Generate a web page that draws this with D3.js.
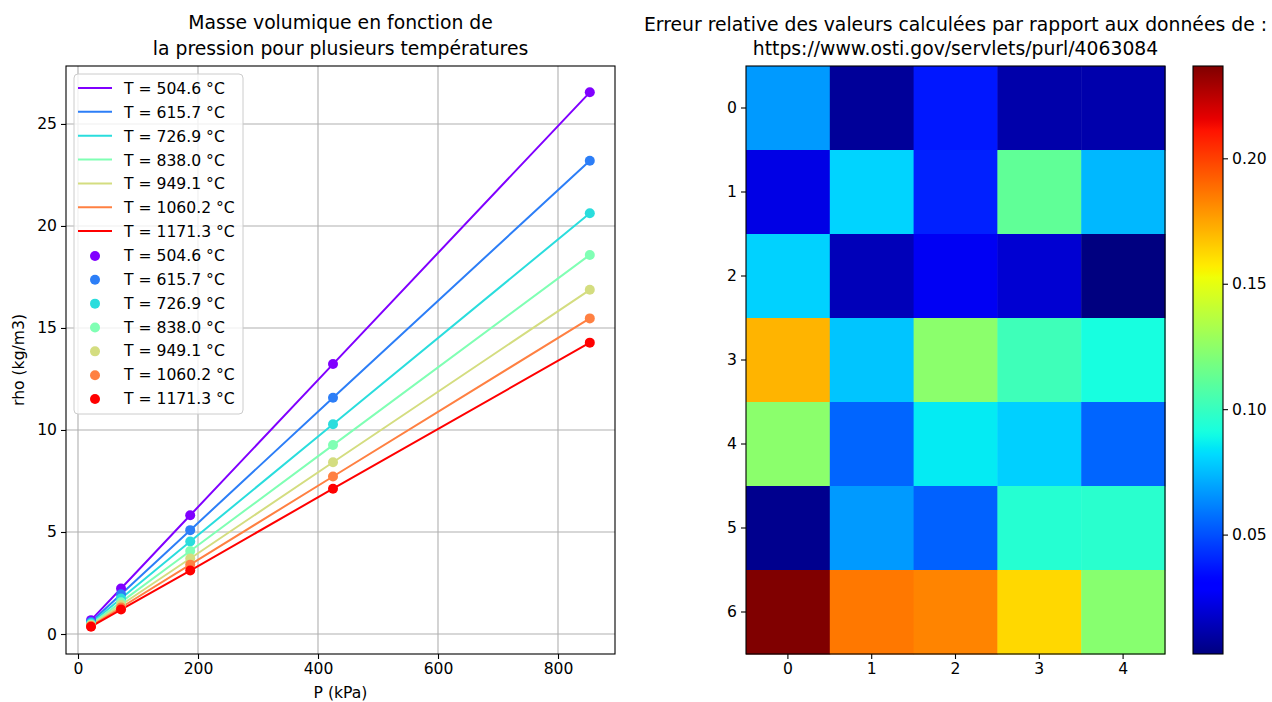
<!DOCTYPE html>
<html><head><meta charset="utf-8">
<script src="https://cdn.jsdelivr.net/npm/d3@7"></script>
<style>
body{margin:0;background:#fff;}
text{font-family:"DejaVu Sans",sans-serif;fill:#000;}
</style></head>
<body><svg id="c" width="1272" height="702"></svg>
<script>
// ---------- data ----------
const pressures = [21.7, 71.7, 187, 425, 853];
const temperatures = ["504.6", "615.7", "726.9", "838.0", "949.1", "1060.2", "1171.3"];
const rho504 = [0.68, 2.23, 5.82, 13.23, 26.55];
const rho615 = [0.59, 1.95, 5.09, 11.58, 23.20];
const rho726 = [0.53, 1.74, 4.53, 10.28, 20.62];
const rho838 = [0.47, 1.56, 4.07, 9.26, 18.58];
const rho949 = [0.43, 1.42, 3.70, 8.42, 16.87];
const rho1060 = [0.39, 1.30, 3.40, 7.72, 15.47];
const rho1171 = [0.36, 1.20, 3.11, 7.12, 14.28];
const seriesColors = ["#8000ff", "#2c7ef7", "#2adddd", "#80ffb4", "#d4dd80", "#ff8042", "#ff0000"];
const xTicks = [0, 200, 400, 600, 800];
const yTicks = [0, 5, 10, 15, 20, 25];

const errRow0 = [0.067, 0.0076, 0.037, 0.011, 0.0115];
const errRow1 = [0.023, 0.0805, 0.039, 0.1118, 0.0739];
const errRow2 = [0.080, 0.014, 0.026, 0.019, 0.0024];
const errRow3 = [0.171, 0.077, 0.124, 0.102, 0.091];
const errRow4 = [0.124, 0.055, 0.0856, 0.0795, 0.055];
const errRow5 = [0.0053, 0.067, 0.054, 0.095, 0.096];
const errRow6 = [0.2368, 0.186, 0.183, 0.162, 0.123];
const cbTicks = [0.05, 0.10, 0.15, 0.20];
const cbLabels = ["0.05", "0.10", "0.15", "0.20"];

const rhoSeries = [rho504, rho615, rho726, rho838, rho949, rho1060, rho1171];
const errMatrix = [errRow0, errRow1, errRow2, errRow3, errRow4, errRow5, errRow6];

const FS = "15.6px", FT = "18.8px";
const svg = d3.select("#c");

// ---------- left chart ----------
const L = {x0: 66, x1: 615, y0: 66, y1: 654};
const x = d3.scaleLinear().domain([-20, 895]).range([L.x0, L.x1]);
const y = d3.scaleLinear().domain([-0.98, 27.84]).range([L.y1, L.y0]);
const gl = svg.append("g");

gl.selectAll(".gx").data(xTicks).enter().append("line")
  .attr("x1", d => x(d)).attr("x2", d => x(d)).attr("y1", L.y0).attr("y2", L.y1)
  .attr("stroke", "#b0b0b0").attr("stroke-width", 1.1);
gl.selectAll(".gy").data(yTicks).enter().append("line")
  .attr("y1", d => y(d)).attr("y2", d => y(d)).attr("x1", L.x0).attr("x2", L.x1)
  .attr("stroke", "#b0b0b0").attr("stroke-width", 1.1);

const line = d3.line().x((d, i) => x(pressures[i])).y(d => y(d));
rhoSeries.forEach((s, k) => {
  gl.append("path").attr("d", line(s)).attr("fill", "none")
    .attr("stroke", seriesColors[k]).attr("stroke-width", 2);
});
rhoSeries.forEach((s, k) => {
  gl.selectAll(null).data(s).enter().append("circle")
    .attr("cx", (d, i) => x(pressures[i])).attr("cy", d => y(d)).attr("r", 5)
    .attr("fill", seriesColors[k]);
});

const ax = gl.append("g").attr("transform", `translate(0,${L.y1})`)
  .call(d3.axisBottom(x).tickValues(xTicks).tickSize(5).tickPadding(4).tickFormat(d3.format("d")));
const ay = gl.append("g").attr("transform", `translate(${L.x0},0)`)
  .call(d3.axisLeft(y).tickValues(yTicks).tickSize(5).tickPadding(4).tickFormat(d3.format("d")));
[ax, ay].forEach(a => {
  a.select(".domain").remove();
  a.selectAll("text").style("font-size", FS).style("font-family", "DejaVu Sans").attr("fill", "#000");
  a.selectAll("line").attr("stroke", "#000").attr("stroke-width", 1.1);
});
gl.append("rect").attr("x", L.x0).attr("y", L.y0).attr("width", L.x1 - L.x0).attr("height", L.y1 - L.y0)
  .attr("fill", "none").attr("stroke", "#000").attr("stroke-width", 1.1);

gl.append("text").attr("x", (L.x0 + L.x1) / 2).attr("y", 698).attr("text-anchor", "middle")
  .style("font-size", FS).text("P (kPa)");
gl.append("text").attr("transform", `translate(24,${(L.y0 + L.y1) / 2}) rotate(-90)`).attr("text-anchor", "middle")
  .style("font-size", FS).text("rho (kg/m3)");
gl.append("text").attr("x", (L.x0 + L.x1) / 2).attr("y", 29).attr("text-anchor", "middle")
  .style("font-size", FT).text("Masse volumique en fonction de");
gl.append("text").attr("x", (L.x0 + L.x1) / 2).attr("y", 55).attr("text-anchor", "middle")
  .style("font-size", FT).text("la pression pour plusieurs températures");

// legend
const lg = gl.append("g");
lg.append("rect").attr("x", 74).attr("y", 74).attr("width", 169).attr("height", 340).attr("rx", 4)
  .attr("fill", "#fff").attr("fill-opacity", 0.8).attr("stroke", "#cccccc").attr("stroke-width", 1);
const legendItems = temperatures.map((t, k) => ({t, k, type: "line"}))
  .concat(temperatures.map((t, k) => ({t, k, type: "dot"})));
legendItems.forEach((it, i) => {
  const yy = 88 + i * 23.85;
  if (it.type === "line") {
    lg.append("line").attr("x1", 78).attr("x2", 112).attr("y1", yy).attr("y2", yy)
      .attr("stroke", seriesColors[it.k]).attr("stroke-width", 2);
  } else {
    lg.append("circle").attr("cx", 95).attr("cy", yy + 1).attr("r", 5).attr("fill", seriesColors[it.k]);
  }
  lg.append("text").attr("x", 124).attr("y", yy + 6).style("font-size", FS)
    .text(`T = ${it.t} °C`);
});

// ---------- right chart (heatmap) ----------
const R = {x0: 746, x1: 1165, y0: 66, y1: 654};
const nCols = errRow0.length, nRows = errMatrix.length;
const xb = d3.scaleBand().domain(d3.range(nCols)).range([R.x0, R.x1]);
const yb = d3.scaleBand().domain(d3.range(nRows)).range([R.y0, R.y1]);
const vmin = d3.min(errMatrix.flat()), vmax = d3.max(errMatrix.flat());
const cn = d3.scaleLinear().domain([vmin, vmax]).range([0, 1]);
const jr = d3.scaleLinear().domain([0, 0.35, 0.66, 0.89, 1]).range([0, 0, 1, 1, 0.5]).clamp(true);
const jg = d3.scaleLinear().domain([0, 0.125, 0.375, 0.64, 0.91, 1]).range([0, 0, 1, 1, 0, 0]).clamp(true);
const jb = d3.scaleLinear().domain([0, 0.11, 0.34, 0.65, 1]).range([0.5, 1, 1, 0, 0]).clamp(true);
const jet = t => d3.rgb(jr(t) * 255, jg(t) * 255, jb(t) * 255).toString();

const gr = svg.append("g");
errMatrix.forEach((row, r) => {
  gr.selectAll(null).data(row).enter().append("rect")
    .attr("x", (d, c) => xb(c)).attr("y", yb(r))
    .attr("width", xb.bandwidth() + 0.5).attr("height", yb.bandwidth() + 0.5)
    .attr("fill", d => jet(cn(d)));
});
gr.append("rect").attr("x", R.x0).attr("y", R.y0).attr("width", R.x1 - R.x0).attr("height", R.y1 - R.y0)
  .attr("fill", "none").attr("stroke", "#000").attr("stroke-width", 1.1);
const hx = gr.append("g").attr("transform", `translate(0,${R.y1})`)
  .call(d3.axisBottom(xb).tickSize(5).tickPadding(4));
const hy = gr.append("g").attr("transform", `translate(${R.x0},0)`)
  .call(d3.axisLeft(yb).tickSize(5).tickPadding(4));
[hx, hy].forEach(a => {
  a.select(".domain").remove();
  a.selectAll("text").style("font-size", FS).style("font-family", "DejaVu Sans").attr("fill", "#000");
  a.selectAll("line").attr("stroke", "#000").attr("stroke-width", 1.1);
});
gr.append("text").attr("x", (R.x0 + R.x1) / 2).attr("y", 31).attr("text-anchor", "middle")
  .style("font-size", FT).text("Erreur relative des valeurs calculées par rapport aux données de :");
gr.append("text").attr("x", (R.x0 + R.x1) / 2).attr("y", 55).attr("text-anchor", "middle")
  .style("font-size", FT).text("https://www.osti.gov/servlets/purl/4063084");

// colorbar
const CB = {x0: 1193, x1: 1223, y0: 66, y1: 654};
const defs = svg.append("defs");
const grad = defs.append("linearGradient").attr("id", "jetg").attr("x1", 0).attr("y1", 1).attr("x2", 0).attr("y2", 0);
d3.range(0, 1.0001, 0.01).forEach(t => {
  grad.append("stop").attr("offset", t).attr("stop-color", jet(t));
});
svg.append("rect").attr("x", CB.x0).attr("y", CB.y0).attr("width", CB.x1 - CB.x0).attr("height", CB.y1 - CB.y0)
  .attr("fill", "url(#jetg)").attr("stroke", "#000").attr("stroke-width", 1.1);
const cy = d3.scaleLinear().domain([vmin, vmax]).range([CB.y1, CB.y0]);
const ca = svg.append("g").attr("transform", `translate(${CB.x1},0)`)
  .call(d3.axisRight(cy).tickValues(cbTicks).tickSize(5).tickPadding(4).tickFormat((d, i) => cbLabels[i]));
ca.select(".domain").remove();
ca.selectAll("text").style("font-size", FS).style("font-family", "DejaVu Sans").attr("fill", "#000");
ca.selectAll("line").attr("stroke", "#000").attr("stroke-width", 1.1);
</script></body></html>
